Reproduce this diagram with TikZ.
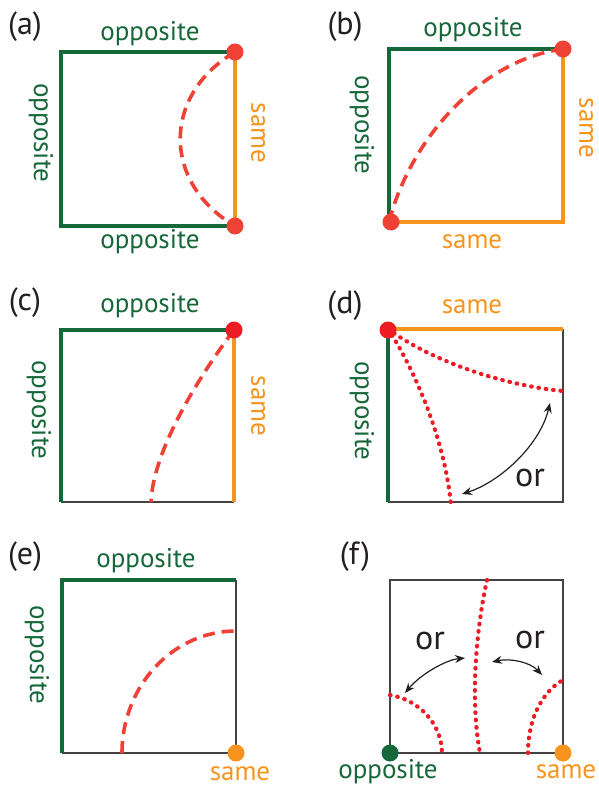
\documentclass[tikz,border=0pt]{standalone}
\usepackage{fontspec}
\setmainfont{PT Sans}
\usetikzlibrary{arrows.meta}
\definecolor{dgreen}{RGB}{22,104,58}
\definecolor{orng}{RGB}{247,148,29}
\definecolor{dred}{RGB}{239,65,54}
\definecolor{rred}{RGB}{237,28,36}
\definecolor{txt}{RGB}{35,31,32}
\begin{document}
\begin{tikzpicture}[x=1pt,y=-1pt,
 gedge/.style={draw=dgreen,line width=3.5pt},
 oedge/.style={draw=orng,line width=3.2pt},
 kedge/.style={draw=txt!85,line width=1.2pt},
 lbl/.style={font=\fontsize{27}{27}\selectfont,inner sep=0pt},
 gl/.style={lbl,text=dgreen},
 ol/.style={lbl,text=orng},
 tag/.style={font=\fontsize{32}{32}\selectfont,text=txt,inner sep=0pt},
 orl/.style={font=\fontsize{34}{34}\selectfont,text=txt,inner sep=0pt},
 dashr/.style={draw=dred,line width=3.6pt,dash pattern=on 12pt off 7pt},
 dotr/.style={draw=rred,line width=4.2pt,line cap=round,dash pattern=on 0.6pt off 6.8pt},
 rdot/.style={circle,fill=dred,minimum size=17pt,inner sep=0pt},
 gdot/.style={circle,fill=dgreen,minimum size=17pt,inner sep=0pt},
 odot/.style={circle,fill=orng,minimum size=17pt,inner sep=0pt},
 ordbl/.style={draw=txt,line width=1.2pt,{Stealth[length=10pt,width=8pt]}-{Stealth[length=10pt,width=8pt]}},
]
\useasboundingbox (0,0) rectangle (598,789);
% ---------- (a)
\coordinate (a1) at (61,52); \coordinate (a2) at (235,52);
\coordinate (a3) at (235,226); \coordinate (a4) at (61,226);
\draw[gedge] (a2) -- (a1) -- (a4) -- (a3);
\draw[oedge] (a2) -- (a3);
\draw[dashr] (a2) .. controls (162,95) and (162,183) .. (a3);
\node[rdot] (ad1) at (a2) {};
\node[rdot] (ad2) at (a3) {};
\node[tag] (at) at (25,27) {(a)};
\node[gl] (al1) at (150,34) {opposite};
\node[gl,rotate=-90] (al2) at (41,133) {opposite};
\node[ol,rotate=-90] (al3) at (258,133) {same};
\node[gl] (al4) at (150,242) {opposite};
% ---------- (b)
\coordinate (b1) at (389,49); \coordinate (b2) at (563,49);
\coordinate (b3) at (563,222); \coordinate (b4) at (389,222);
\draw[gedge] (b2) -- (b1) -- (b4);
\draw[oedge] (b2) -- (b3) -- (b4);
\draw[dashr] (b4) .. controls (410,140) and (480,60) .. (b2);
\node[rdot] (bd1) at (b2) {};
\node[rdot] (bd2) at (391,222) {};
\node[tag] (bt) at (345,27) {(b)};
\node[gl] (bl1) at (473,30) {opposite};
\node[gl,rotate=-90] (bl2) at (362,125) {opposite};
\node[ol,rotate=-90] (bl3) at (586,128) {same};
\node[ol] (bl4) at (472,242) {same};
% ---------- (c)
\coordinate (c1) at (61,330); \coordinate (c2) at (234,330);
\coordinate (c3) at (234,502); \coordinate (c4) at (61,502);
\coordinate (ce) at (151,502);
\draw[kedge] (c4) -- (c3);
\draw[gedge] (c2) -- (c1) -- (c4);
\draw[oedge] (c2) -- (c3);
\draw[dashr] (c2) .. controls (200,375) and (153,450) .. (ce);
\node[rdot,fill=rred] (cd1) at (c2) {};
\node[tag] (ct) at (25,303) {(c)};
\node[gl] (cl1) at (150,306) {opposite};
\node[gl,rotate=-90] (cl2) at (39,410) {opposite};
\node[ol,rotate=-90] (cl3) at (258,406) {same};
% ---------- (d)
\coordinate (d1) at (388,329); \coordinate (d2) at (563,329);
\coordinate (d3) at (563,502); \coordinate (d4) at (388,502);
\coordinate (de1) at (563,391); \coordinate (de2) at (451,505);
\coordinate (dar1) at (550,403); \coordinate (dar2) at (462,494);
\draw[kedge] (d2) -- (d3) -- (d4);
\draw[oedge] (d1) -- (d2);
\draw[gedge] (d1) -- (d4);
\draw[dotr] (d1) .. controls (430,360) and (500,385) .. (de1);
\draw[dotr] (d1) .. controls (415,370) and (445,440) .. (de2);
\draw[ordbl] (dar1) .. controls (540,445) and (500,482) .. (dar2);
\node[rdot,fill=rred] (dd1) at (388,330) {};
\node[tag] (dt) at (345,306) {(d)};
\node[ol] (dl1) at (472,307) {same};
\node[gl,rotate=-90] (dl2) at (362,411) {opposite};
\node[orl] (dor) at (530,478) {or};
% ---------- (e)
\coordinate (e1) at (62,580); \coordinate (e2) at (236,580);
\coordinate (e3) at (236,753); \coordinate (e4) at (62,753);
\coordinate (ee1) at (122,753); \coordinate (ee2) at (236,631);
\draw[kedge] (e4) -- (e3) -- (e2);
\draw[gedge] (e2) -- (e1) -- (e4);
\draw[dashr] (ee1) .. controls (122,686) and (173,631) .. (ee2);
\node[odot] (ed1) at (e3) {};
\node[tag] (et) at (25,557) {(e)};
\node[gl] (el1) at (146,561) {opposite};
\node[gl,rotate=-90] (el2) at (37,655) {opposite};
\node[ol] (el3) at (240,774) {same};
% ---------- (f)
\coordinate (f1) at (390,580); \coordinate (f2) at (563,580);
\coordinate (f3) at (563,753); \coordinate (f4) at (390,753);
\coordinate (fm1) at (487,580); \coordinate (fm2) at (480,753);
\coordinate (fl1) at (390,695); \coordinate (fl2) at (442,753);
\coordinate (fr1) at (528,753); \coordinate (fr2) at (563,680);
\coordinate (fa1) at (465,658); \coordinate (fa2) at (405,693);
\coordinate (fb1) at (492,662); \coordinate (fb2) at (542,675);
\draw[kedge] (f1) rectangle (f3);
\draw[dotr] (fm1) .. controls (476,630) and (470,700) .. (fm2);
\draw[dotr] (fl1) .. controls (420,700) and (442,725) .. (fl2);
\draw[dotr] (fr1) .. controls (528,715) and (545,690) .. (fr2);
\draw[ordbl] (fa1) .. controls (445,660) and (420,675) .. (fa2);
\draw[ordbl] (fb1) .. controls (510,658) and (530,662) .. (fb2);
\node[gdot] (fd1) at (f4) {};
\node[odot] (fd2) at (f3) {};
\node[tag] (ft) at (355,557) {(f)};
\node[orl] (for1) at (430,641) {or};
\node[orl] (for2) at (530,640) {or};
\node[gl] (fl3) at (388,772) {opposite};
\node[ol] (fl4) at (566,772) {same};
\end{tikzpicture}
\end{document}
